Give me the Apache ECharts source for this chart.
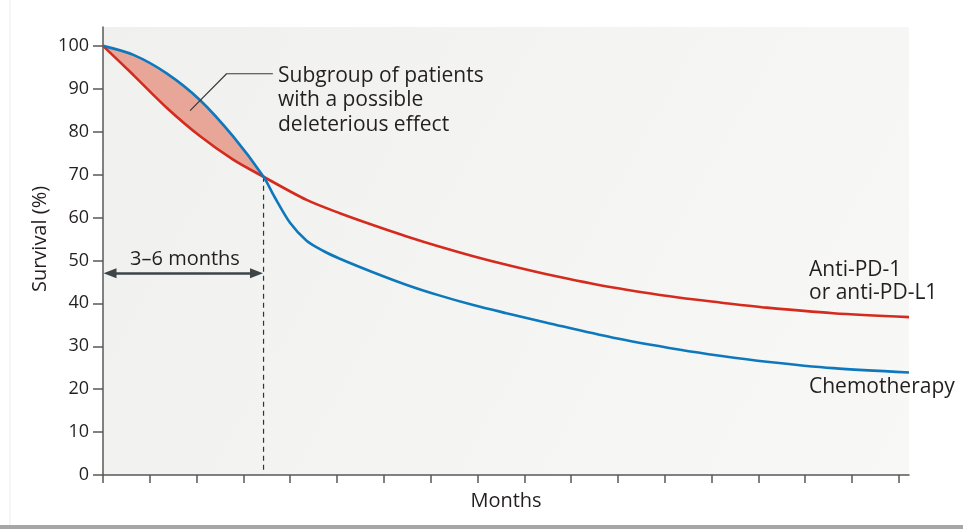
<!DOCTYPE html>
<html><head><meta charset="utf-8">
<script src="https://cdn.jsdelivr.net/npm/echarts@6/dist/echarts.min.js"></script>
<style>html,body{margin:0;padding:0;background:#fff}#c{width:963px;height:529px}</style>
</head><body><div id="c"></div>
<script>
// Anti-PD-1 / anti-PD-L1 survival curve (months, survival %)
const pd1Months = [0, 0.65, 1.36, 2.07, 2.78, 3.43, 4.35, 5.06, 5.78, 6.49, 7.2, 7.91, 8.62, 9.48, 10.9, 12.33, 13.18, 14.18, 15.6, 17.22];
const pd1Survival = [100, 93.2, 85.6, 79.0, 73.5, 69.5, 64.1, 61.0, 58.2, 55.6, 53.2, 51.0, 49.0, 46.8, 43.7, 41.3, 40.2, 39.0, 37.7, 36.8];
// Chemotherapy survival curve
const chemoMonths = [0, 0.65, 1.36, 2.07, 2.78, 3.43, 3.66, 4.0, 4.35, 4.71, 5.06, 5.78, 6.49, 7.2, 7.91, 8.62, 9.48, 10.9, 12.33, 13.18, 14.18, 15.6, 17.22];
const chemoSurvival = [100, 97.9, 93.6, 87.4, 78.9, 69.5, 64.9, 58.7, 54.6, 52.2, 50.4, 47.2, 44.3, 41.8, 39.6, 37.7, 35.5, 32.0, 29.2, 27.8, 26.4, 24.9, 23.9];
// Tick positions
const xTicks = [0,1,2,3,4,5,6,7,8,9,10,11,12,13,14,15,16,17];
const yTicks = [0,10,20,30,40,50,60,70,80,90,100];
// Annotation anchors (data coords)
const crossMonth = 3.43;
const crossSurvival = 69.5;
const arrowSurvival = 47;
const leaderPts = [[1.86, 84.9], [2.64, 93.5], [3.63, 93.5]];

const FONT = '"Open Sans"';
const TXT = '#231f20';
const AX = '#585858';

const pair = (xs, ys) => xs.map((x, i) => [x, ys[i]]);
// shaded region between the curves up to the crossing (shared early points)
const nFill = pd1Months.filter(m => m <= crossMonth).length;
const fillBase = [], fillDiff = [];
for (let i = 0; i < nFill; i++) {
  fillBase.push([pd1Survival[i], pd1Months[i]]);
  fillDiff.push([chemoSurvival[i] - pd1Survival[i], pd1Months[i]]);
}

const SM = 0.3;
const chart = echarts.init(document.getElementById('c'));
chart.setOption({
  animation: false,
  backgroundColor: '#ffffff',
  grid: {
    left: 103, right: 54, top: 27, bottom: 54, show: true, borderWidth: 0,
    backgroundColor: new echarts.graphic.LinearGradient(0, 0, 1, 1, [
      {offset: 0, color: '#f0f0ee'}, {offset: 1, color: '#f8f8f6'}
    ])
  },
  xAxis: {
    type: 'value', min: 0, max: 17.22,
    name: 'Months', nameLocation: 'middle', nameGap: 16,
    nameTextStyle: {fontFamily: FONT, fontSize: 20, color: TXT, verticalAlign: 'top'},
    axisLine: {show: true, onZero: false, lineStyle: {color: AX, width: 1.5}},
    axisTick: {show: true, length: 8, customValues: xTicks, lineStyle: {color: AX, width: 1.5}},
    axisLabel: {show: false},
    splitLine: {show: false}
  },
  yAxis: {
    type: 'value', min: 0, max: 104.4,
    axisLine: {show: true, onZero: false, lineStyle: {color: AX, width: 1.5}},
    axisTick: {show: true, length: 10, customValues: yTicks, lineStyle: {color: AX, width: 1.5}},
    axisLabel: {show: true, customValues: yTicks, margin: 14, fontFamily: FONT, fontSize: 18, color: TXT},
    splitLine: {show: false}
  },
  series: [
    {type: 'line', data: fillBase, encode: {x: 1, y: 0}, stack: 'fill', smooth: SM, symbol: 'none',
     lineStyle: {opacity: 0}, silent: true, z: 1},
    {type: 'line', data: fillDiff, encode: {x: 1, y: 0}, stack: 'fill', smooth: SM, symbol: 'none',
     lineStyle: {opacity: 0}, areaStyle: {color: '#e7a698', opacity: 1}, silent: true, z: 1},
    {type: 'line', data: [[crossMonth, crossSurvival], [crossMonth, 1.2]], symbol: 'none',
     lineStyle: {color: '#333', width: 1.2, type: [5, 4]}, z: 2},
    {type: 'line', data: leaderPts, symbol: 'none',
     lineStyle: {color: '#3a3a3a', width: 1.2}, z: 4},
    {type: 'line', name: 'Anti-PD-1', data: pair(pd1Months, pd1Survival), smooth: SM, symbol: 'none',
     lineStyle: {color: '#d52b1e', width: 2.6}, z: 3},
    {type: 'line', name: 'Chemotherapy', data: pair(chemoMonths, chemoSurvival), smooth: SM, symbol: 'none',
     lineStyle: {color: '#0e78bd', width: 2.6}, z: 3},
    {type: 'line', data: [], z: 5,
     markLine: {
       silent: true, symbol: ['triangle', 'triangle'], symbolSize: [10, 13],
       lineStyle: {color: '#3d4548', width: 2.6, type: 'solid'},
       label: {show: false},
       data: [[{coord: [0.15, arrowSurvival]}, {coord: [crossMonth - 0.15, arrowSurvival]}]]
     }}
  ],
  graphic: [
    {type: 'rect', shape: {x: 0, y: 525, width: 963, height: 4}, style: {fill: '#a6a6a6'}, silent: true},
    {type: 'line', shape: {x1: 10, y1: 0, x2: 10, y2: 525}, style: {stroke: '#ededed', lineWidth: 1}, silent: true},
    {type: 'text', x: 40, y: 239, rotation: Math.PI / 2,
     style: {text: 'Survival (%)', font: '20px ' + FONT, fill: TXT, textAlign: 'center', textVerticalAlign: 'middle'}},
    {type: 'text', x: 278, y: 64,
     style: {text: 'Subgroup of patients\nwith a possible\ndeleterious effect', font: '21px ' + FONT, lineHeight: 24.3, fill: TXT}},
    {type: 'text', x: 185, y: 259,
     style: {text: '3–6 months', font: '20px ' + FONT, fill: TXT, textAlign: 'center', textVerticalAlign: 'middle'}},
    {type: 'text', x: 809, y: 258,
     style: {text: 'Anti-PD-1\nor anti-PD-L1', font: '21px ' + FONT, lineHeight: 23.3, fill: TXT}},
    {type: 'text', x: 809, y: 386.7,
     style: {text: 'Chemotherapy', font: '21px ' + FONT, fill: TXT, textVerticalAlign: 'middle'}}
  ]
});
</script></body></html>
